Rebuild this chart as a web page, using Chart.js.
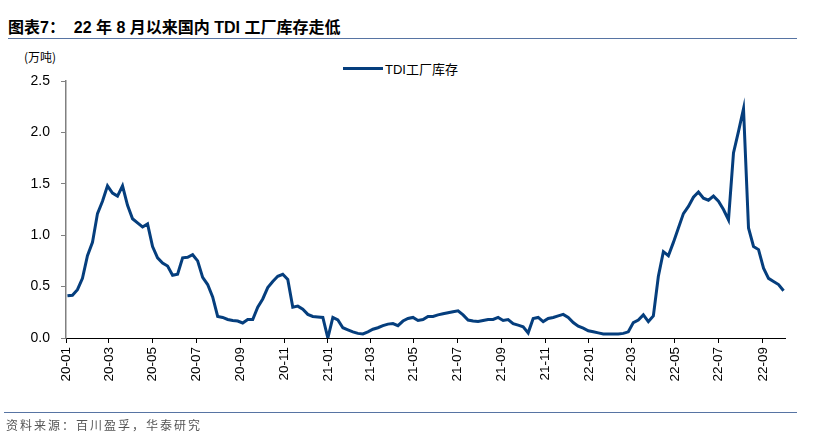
<!DOCTYPE html>
<html>
<head>
<meta charset="utf-8">
<script src="https://cdn.jsdelivr.net/npm/chart.js@4.4.0/dist/chart.umd.min.js"></script>
<style>
  body { margin: 0; background: #fff; }
  #wrap { position: relative; width: 816px; height: 443px; font-family: "Liberation Sans", "Noto Sans CJK SC", sans-serif; }
  #title { position: absolute; left: 8px; top: 14px; font-size: 16px; font-weight: bold; color: #000; font-family: "Liberation Sans", "Noto Sans CJK SC", sans-serif; white-space: pre; }
  #topline { position: absolute; left: 8px; top: 38px; width: 789px; height: 1px; background: #5774a3; }
  #botline { position: absolute; left: 4px; top: 412px; width: 793px; height: 1px; background: #5774a3; }
  #source { position: absolute; left: 6px; top: 416px; font-size: 12px; color: #555; letter-spacing: 2px; font-family: "Noto Sans CJK SC", sans-serif; }
  #unit { position: absolute; left: 24px; top: 48px; font-size: 12px; color: #000; font-family: "Noto Sans CJK SC", sans-serif; }
  #legend { position: absolute; left: 343px; top: 59px; font-size: 13px; color: #000; display: flex; align-items: center; }
  #legend span.mark { display: inline-block; width: 40px; height: 3px; background: #053e7d; margin-right: 2px; }
  canvas { position: absolute; left: 0; top: 0; }
</style>
</head>
<body>
<div id="wrap">
  <div id="title">图表7：  22 年 8 月以来国内 TDI 工厂库存走低</div>
  <div id="topline"></div>
  <div id="unit">(万吨)</div>
  <div id="legend"><span class="mark"></span><span>TDI工厂库存</span></div>
  <canvas id="chart" width="816" height="443"></canvas>
  <div id="botline"></div>
  <div id="source">资料来源：百川盈孚，华泰研究</div>
</div>
<script>
// weekly readings, first week of 2020-01 onwards
var startDay = 2;      // days after 2020-01-01
var stepDays = 7;
var inventory = [
  0.41, 0.415, 0.47, 0.58, 0.80, 0.93, 1.21, 1.33, 1.48, 1.41,
  1.38, 1.48, 1.29, 1.16, 1.12, 1.08, 1.11, 0.89, 0.78, 0.73,
  0.70, 0.61, 0.62, 0.78, 0.785, 0.81, 0.75, 0.59, 0.52, 0.40,
  0.21, 0.20, 0.18, 0.17, 0.165, 0.146, 0.18, 0.18, 0.30, 0.38,
  0.49, 0.55, 0.60, 0.62, 0.57, 0.30, 0.31, 0.28, 0.23, 0.21,
  0.205, 0.20, 0.0, 0.20, 0.175, 0.10, 0.08, 0.06, 0.045, 0.04,
  0.06, 0.085, 0.10, 0.12, 0.135, 0.14, 0.12, 0.165, 0.19, 0.20,
  0.17, 0.18, 0.21, 0.21, 0.225, 0.235, 0.245, 0.255, 0.265, 0.225,
  0.175, 0.165, 0.16, 0.17, 0.18, 0.18, 0.20, 0.17, 0.18, 0.14,
  0.125, 0.11, 0.05, 0.19, 0.20, 0.16, 0.19, 0.20, 0.215, 0.23,
  0.20, 0.15, 0.115, 0.095, 0.07, 0.06, 0.05, 0.04, 0.04, 0.04,
  0.04, 0.045, 0.06, 0.15, 0.175, 0.225, 0.16, 0.215, 0.60, 0.84,
  0.80, 0.93, 1.07, 1.21, 1.28, 1.37, 1.42, 1.36, 1.34, 1.38,
  1.33, 1.25, 1.15, 1.80, 2.01, 2.23, 1.07, 0.89, 0.86, 0.68,
  0.58, 0.55, 0.52, 0.46
];
var xTickLabels = ['20-01','20-03','20-05','20-07','20-09','20-11','21-01','21-03','21-05',
  '21-07','21-09','21-11','22-01','22-03','22-05','22-07','22-09'];
var yTicks = [0, 0.5, 1.0, 1.5, 2.0, 2.5];

function dayOf(label) {
  var y = 2000 + parseInt(label.slice(0, 2), 10);
  var m = parseInt(label.slice(3), 10) - 1;
  return Math.round((Date.UTC(y, m, 1) - Date.UTC(2020, 0, 1)) / 86400000);
}
var tickDays = xTickLabels.map(dayOf);

var points = inventory.map(function(v, i) { return { x: startDay + i * stepDays, y: v }; });

var ctx = document.getElementById('chart');
var chart = new Chart(ctx, {
  type: 'line',
  data: {
    datasets: [{
      label: 'TDI工厂库存',
      data: points,
      borderColor: '#053e7d',
      borderWidth: 3,
      pointRadius: 0,
      tension: 0,
      fill: false
    }]
  },
  options: {
    responsive: false,
    animation: false,
    layout: { padding: { left: 0, right: 31, top: 81, bottom: 0 } },
    plugins: { legend: { display: false }, tooltip: { enabled: false } },
    scales: {
      x: {
        type: 'linear',
        min: 0,
        max: 1005,
        afterBuildTicks: function(s) { s.ticks = tickDays.map(function(d) { return { value: d }; }); },
        afterFit: function(s) { s.height = 105; },
        ticks: {
          autoSkip: false,
          minRotation: 90,
          maxRotation: 90,
          color: '#000',
          font: { family: 'Liberation Sans', size: 13.5 },
          padding: 4,
          callback: function(v) { var i = tickDays.indexOf(v); return i >= 0 ? xTickLabels[i] : ''; }
        },
        grid: { display: true, drawOnChartArea: false, drawTicks: true, tickLength: 5, color: '#000' },
        border: { color: '#000', width: 1 }
      },
      y: {
        min: 0,
        max: 2.5,
        afterBuildTicks: function(s) { s.ticks = yTicks.map(function(v) { return { value: v }; }); },
        afterFit: function(s) { s.width = 66; },
        ticks: {
          color: '#000',
          font: { family: 'Liberation Sans', size: 14 },
          padding: 11,
          callback: function(v) { return v.toFixed(1); }
        },
        grid: { display: true, drawOnChartArea: false, drawTicks: true, tickLength: 5, color: '#808080' },
        border: { color: '#808080', width: 1.5 }
      }
    }
  }
});
</script>
</body>
</html>
